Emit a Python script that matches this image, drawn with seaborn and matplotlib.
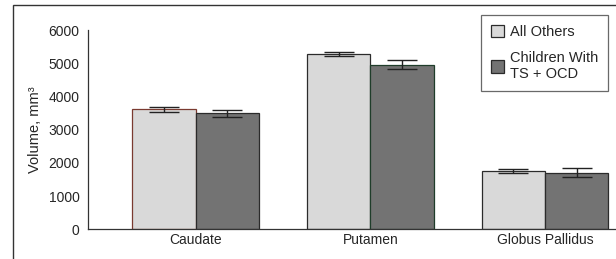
import matplotlib
matplotlib.use('Agg')
import numpy as np
import pandas as pd
import seaborn as sns
from matplotlib import pyplot as plt
from matplotlib import font_manager
from matplotlib.patches import Rectangle

regions = ['Caudate', 'Putamen', 'Globus Pallidus']
groups = ['All Others', 'Children With\nTS + OCD']
others_mean = [3610, 5280, 1760]
others_err = [75, 70, 70]
tsocd_mean = [3490, 4960, 1710]
tsocd_err = [115, 130, 125]

df = pd.DataFrame({
    'region': regions * 2,
    'group': [groups[0]] * 3 + [groups[1]] * 3,
    'volume': others_mean + tsocd_mean,
})

sns.set_style('white')
installed = {f.name for f in font_manager.fontManager.ttflist}
narrow = 'Liberation Sans Narrow' if 'Liberation Sans Narrow' in installed else 'Liberation Sans'
plt.rcParams['font.family'] = [narrow, 'DejaVu Sans']

fig = plt.figure(figsize=(6.16, 2.59), dpi=100)
ax = fig.add_axes([0.1429, 0.1147, 0.857, 0.769])

sns.barplot(data=df, x='region', y='volume', hue='group', hue_order=groups,
            palette=['#d9d9d9', '#737373'], width=0.726, errorbar=None,
            edgecolor='#2b2b2b', linewidth=0.9, saturation=1, ax=ax)

# error bars on top of each bar
for cont, errs in zip(ax.containers, [others_err, tsocd_err]):
    xs = [b.get_x() + b.get_width() / 2 for b in cont]
    ys = [b.get_height() for b in cont]
    ax.errorbar(xs, ys, yerr=errs, fmt='none', ecolor='#222222',
                elinewidth=1, capsize=10.5, capthick=1, zorder=5)

# odd edge colours in the original
ax.containers[0][0].set_edgecolor('#7a3a30')
ax.containers[1][1].set_edgecolor('#1f3d2a')

ax.set_ylim(0, 6000)
ax.set_xlim(-0.617, 2.406)
ax.set_yticks(range(0, 6001, 1000))
ax.set_xlabel('')
ax.set_ylabel('Volume, mm³', fontsize=10.5, labelpad=5)
ax.tick_params(axis='y', length=4, width=0.8, color='#333333', labelsize=10, pad=2)
ax.tick_params(axis='x', length=0, labelsize=10, pad=3)
for s in ['top', 'right']:
    ax.spines[s].set_visible(False)
for s in ['left', 'bottom']:
    ax.spines[s].set_color('#333333')
    ax.spines[s].set_linewidth(0.9)

handles, labels = ax.get_legend_handles_labels()
ax.legend(handles, labels, loc='upper right', bbox_to_anchor=(608 / 616, 1 - 15 / 259),
          bbox_transform=fig.transFigure, fontsize=10.5, frameon=True, fancybox=False,
          edgecolor='#444444', handlelength=0.85, handleheight=0.9, handletextpad=0.4,
          borderpad=0.7, labelspacing=0.8, borderaxespad=0)
ax.get_legend().get_frame().set_linewidth(0.9)

# outer frame of the figure
fig.patches.append(Rectangle((13 / 616, -0.1), 1.2, 1.1 - 5 / 259, transform=fig.transFigure,
                             fill=False, edgecolor='#333333', linewidth=1.0, clip_on=False))

fig.savefig('out.png', dpi=100)
